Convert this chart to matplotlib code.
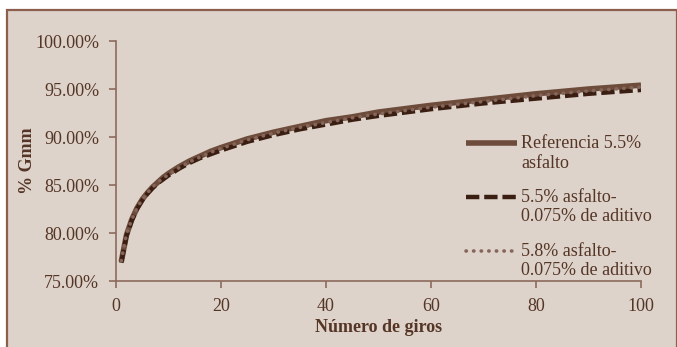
import matplotlib
matplotlib.use("Agg")
import matplotlib.pyplot as plt
from matplotlib.patches import Rectangle
from matplotlib.legend_handler import HandlerLine2D

# número de giros y % Gmm
giros = [1, 2, 3, 4, 5, 6, 7, 8, 9, 10, 12, 14, 16, 18, 20, 25, 30, 35, 40,
         45, 50, 60, 70, 80, 90, 100]
ref_55 = [77.0, 79.8, 81.4, 82.6, 83.5, 84.2, 84.8, 85.3, 85.8, 86.2, 86.9,
          87.5, 88.0, 88.5, 88.9, 89.8, 90.5, 91.1, 91.7, 92.1, 92.6, 93.3,
          93.9, 94.5, 95.0, 95.4]
asf55_adit = [76.9, 79.7, 81.3, 82.5, 83.4, 84.1, 84.7, 85.2, 85.6, 86.0, 86.7,
              87.3, 87.8, 88.2, 88.6, 89.5, 90.2, 90.8, 91.3, 91.8, 92.2, 92.9,
              93.5, 94.0, 94.5, 94.9]
asf58_adit = [77.1, 79.9, 81.4, 82.6, 83.5, 84.2, 84.8, 85.3, 85.7, 86.1, 86.8,
              87.4, 87.9, 88.4, 88.8, 89.7, 90.4, 91.0, 91.5, 92.0, 92.4, 93.1,
              93.7, 94.3, 94.8, 95.2]
etiquetas = ["Referencia 5.5%\nasfalto",
             "5.5% asfalto-\n0.075% de aditivo",
             "5.8% asfalto-\n0.075% de aditivo"]
y_ticks = [75, 80, 85, 90, 95, 100]
x_ticks = [0, 20, 40, 60, 80, 100]

fondo = "#ddd3ca"
texto = "#553525"
eje = "#8c6b5c"


class HandlerArriba(HandlerLine2D):
    # la línea de la leyenda va a la altura de la primera línea del texto
    def create_artists(self, legend, orig_handle, xdescent, ydescent, width,
                       height, fontsize, trans):
        arts = super().create_artists(legend, orig_handle, xdescent, ydescent,
                                      width, height, fontsize, trans)
        for a in arts:
            a.set_ydata([y + 0.58 * fontsize for y in a.get_ydata()])
        return arts


plt.rcParams["font.family"] = ["Liberation Serif", "DejaVu Serif"]

fig = plt.figure(figsize=(6.77, 3.47), dpi=100)
fig.patch.set_facecolor("white")
marco = Rectangle((6.5 / 677, -0.05), 0.99, 1 - 9.5 / 347 + 0.05,
                  transform=fig.transFigure, facecolor=fondo,
                  edgecolor="#8c5e4e", linewidth=1.6, zorder=-10)
fig.patches.append(marco)

ax = fig.add_axes([116 / 677, 1 - 281 / 347, 525 / 677, 240 / 347])
ax.set_facecolor("none")

l1, = ax.plot(giros, ref_55, color="#6e4c3c", linewidth=4,
              solid_capstyle="butt", label=etiquetas[0])
l2, = ax.plot(giros, asf55_adit, color="#3a1e12", linewidth=3.2,
              linestyle=(0, (3, 1.1)), label=etiquetas[1])
l3, = ax.plot(giros, asf58_adit, color="#86665a", linewidth=2.6,
              linestyle=(0, (0.1, 2.0)), dash_capstyle="round",
              label=etiquetas[2])

ax.set_xlim(0, 100)
ax.set_ylim(75, 100)
ax.set_xticks(x_ticks)
ax.set_yticks(y_ticks)
ax.set_yticklabels([f"{v:.2f}%" for v in y_ticks])

for s in ["top", "right"]:
    ax.spines[s].set_visible(False)
for s in ["left", "bottom"]:
    ax.spines[s].set_color(eje)
    ax.spines[s].set_linewidth(1.2)
ax.tick_params(direction="out", length=5, width=1.2, color=eje,
               labelcolor=texto, labelsize=13, pad=7)

ax.set_xlabel("Número de giros", fontsize=13, fontweight="bold", color=texto,
              labelpad=3)
ax.set_ylabel("% Gmm", fontsize=13, fontweight="bold", color=texto)
ax.yaxis.set_label_coords(-0.153, 0.5)

leg = ax.legend(loc="upper left", bbox_to_anchor=(466 / 677, 1 - 135 / 347),
                bbox_transform=fig.transFigure, frameon=False, fontsize=13,
                handlelength=2.85, handletextpad=0.2, labelspacing=0.95,
                borderpad=0, borderaxespad=0,
                handler_map={l1: HandlerArriba(), l2: HandlerArriba(),
                             l3: HandlerArriba()})
for t in leg.get_texts():
    t.set_color(texto)

fig.savefig("out.png", dpi=100, facecolor=fig.get_facecolor())
